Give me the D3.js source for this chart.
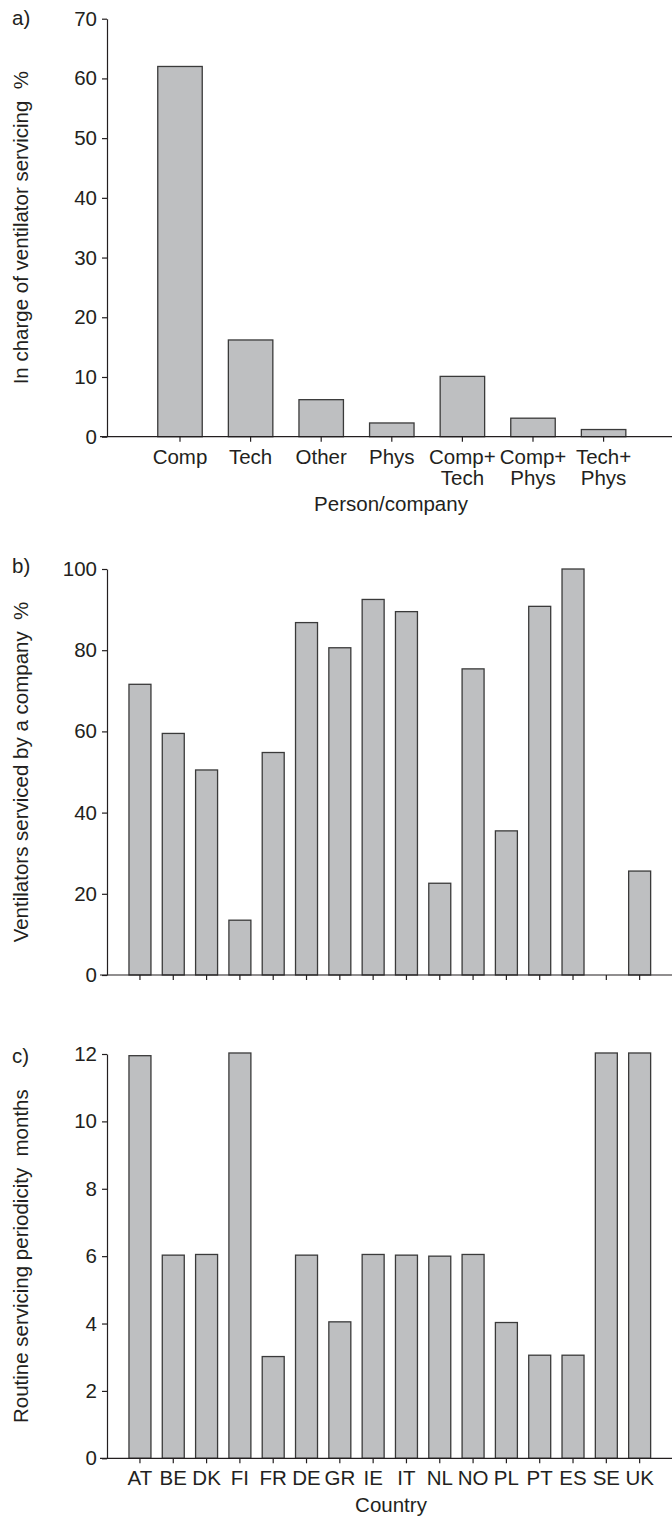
<!DOCTYPE html>
<html>
<head>
<meta charset="utf-8">
<script src="https://cdn.jsdelivr.net/npm/d3@7"></script>
<style>
  html, body { margin: 0; padding: 0; background: #fff; }
  svg { display: block; }
  text { font-family: "Liberation Sans", Arial, sans-serif; fill: #231f20; }
</style>
</head>
<body>
<svg id="chart" width="672" height="1517"></svg>
<script>
// Panel a: who is in charge of ventilator servicing (%)
const roleKeys = ["Comp", "Tech", "Other", "Phys", "Comp+Tech", "Comp+Phys", "Tech+Phys"];
const roleLines = [["Comp"], ["Tech"], ["Other"], ["Phys"], ["Comp+", "Tech"], ["Comp+", "Phys"], ["Tech+", "Phys"]];
const roleShare = [62, 16.2, 6.2, 2.3, 10.1, 3.1, 1.2];
const roleTicks = [0, 10, 20, 30, 40, 50, 60, 70];

// Panels b and c: per-country values
const countries = ["AT", "BE", "DK", "FI", "FR", "DE", "GR", "IE", "IT", "NL", "NO", "PL", "PT", "ES", "SE", "UK"];
const companyShare = [71.6, 59.5, 50.5, 13.5, 54.8, 86.8, 80.6, 92.5, 89.5, 22.6, 75.4, 35.5, 90.8, 100, null, 25.6];
const companyTicks = [0, 20, 40, 60, 80, 100];
const periodMonths = [11.95, 6.03, 6.05, 12.03, 3.02, 6.03, 4.05, 6.05, 6.03, 6.0, 6.05, 4.03, 3.06, 3.06, 12.03, 12.03];
const periodTicks = [0, 2, 4, 6, 8, 10, 12];

const svg = d3.select("#chart");
const FS = 20.5;
const INK = "#231f20";
const BAR_FILL = "#bebfc1";
const BAR_STROKE = "#3a3a3a";
const AXIS_X = 107;

function drawPanel(p) {
  const g = svg.append("g");
  const y = d3.scaleLinear().domain([0, p.yMax]).range([p.yBottom, p.yTop]);
  const x = d3.scaleBand().domain(p.keys).range(p.xRange)
    .paddingInner(p.pad).paddingOuter(p.pad / 2);

  // bars
  g.selectAll("rect.bar")
    .data(p.keys.map((k, i) => ({ k, v: p.values[i] })).filter(d => d.v != null))
    .join("rect")
    .attr("class", "bar")
    .attr("x", d => x(d.k))
    .attr("width", x.bandwidth())
    .attr("y", d => y(d.v))
    .attr("height", d => y(0) - y(d.v))
    .attr("fill", BAR_FILL)
    .attr("stroke", BAR_STROKE)
    .attr("stroke-width", 1.3);

  // y axis
  const ya = g.append("g")
    .attr("transform", `translate(${AXIS_X},0)`)
    .call(d3.axisLeft(y).tickValues(p.yTicks).tickSize(5).tickSizeOuter(0).tickPadding(5));
  ya.select(".domain").attr("stroke", INK).attr("stroke-width", 1.2);
  ya.selectAll(".tick line").attr("stroke", INK).attr("stroke-width", 1.2);
  ya.selectAll(".tick text").attr("font-size", FS).attr("font-family", null).attr("fill", INK);

  // x baseline across the full width
  g.append("line")
    .attr("x1", 100).attr("x2", 672)
    .attr("y1", y(0)).attr("y2", y(0))
    .attr("stroke", INK).attr("stroke-width", 1.2);

  // x axis ticks (labels added below)
  const xa = g.append("g")
    .attr("transform", `translate(0,${y(0)})`)
    .call(d3.axisBottom(x).tickSize(5).tickSizeOuter(0).tickFormat(""));
  xa.select(".domain").remove();
  xa.selectAll(".tick line").attr("stroke", INK).attr("stroke-width", 1.2);

  if (p.tickLines) {
    xa.selectAll(".tick text").remove();
    p.keys.forEach((k, i) => {
      const t = g.append("text")
        .attr("x", x(k) + x.bandwidth() / 2)
        .attr("y", y(0) + p.labelOffset)
        .attr("text-anchor", "middle")
        .attr("font-size", FS);
      p.tickLines[i].forEach((line, j) => {
        t.append("tspan")
          .attr("x", x(k) + x.bandwidth() / 2)
          .attr("dy", j === 0 ? 0 : 21)
          .text(line);
      });
    });
  }

  if (p.xTitle) {
    g.append("text")
      .attr("x", 391)
      .attr("y", p.xTitleY)
      .attr("text-anchor", "middle")
      .attr("font-size", FS)
      .text(p.xTitle);
  }

  // y title
  g.append("text")
    .attr("transform", `translate(28,${(p.yTop + p.yBottom) / 2}) rotate(-90)`)
    .attr("text-anchor", "middle")
    .attr("font-size", FS)
    .attr("xml:space", "preserve")
    .style("white-space", "pre")
    .text(p.yTitle);

  // panel tag
  g.append("text")
    .attr("x", 12)
    .attr("y", p.tagY)
    .attr("font-size", FS)
    .text(p.tag);
}

drawPanel({
  keys: roleKeys, values: roleShare, tickLines: roleLines,
  yMax: 70, yTicks: roleTicks, yTop: 18.7, yBottom: 436.7,
  xRange: [144.7, 638.9], pad: 0.37, labelOffset: 27.5,
  xTitle: "Person/company", xTitleY: 511,
  yTitle: "In charge of ventilator servicing  %",
  tag: "a)", tagY: 25
});

drawPanel({
  keys: countries, values: companyShare, tickLines: null,
  yMax: 100, yTicks: companyTicks, yTop: 569, yBottom: 975,
  xRange: [123.3, 656.3], pad: 0.34,
  yTitle: "Ventilators serviced by a company  %",
  tag: "b)", tagY: 573
});

drawPanel({
  keys: countries, values: periodMonths, tickLines: countries.map(c => [c]),
  yMax: 12, yTicks: periodTicks, yTop: 1054, yBottom: 1458.3,
  xRange: [123.3, 656.3], pad: 0.34, labelOffset: 27,
  xTitle: "Country", xTitleY: 1512,
  yTitle: "Routine servicing periodicity  months",
  tag: "c)", tagY: 1063
});
</script>
</body>
</html>
